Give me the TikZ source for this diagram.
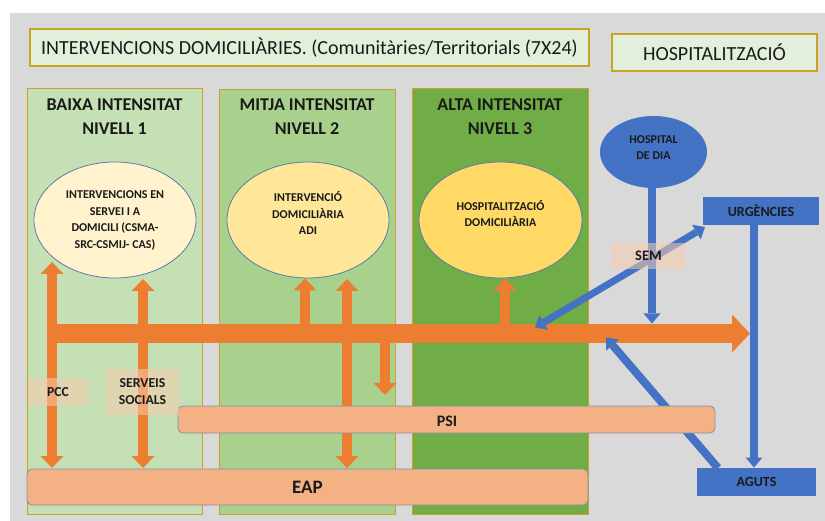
\documentclass[tikz,border=0pt]{standalone}
\usepackage{fontspec}
\setmainfont{Carlito}
\usetikzlibrary{arrows.meta,shapes.geometric}

\definecolor{bggray}{HTML}{D9D9D9}
\definecolor{titlefill}{HTML}{E2EFDA}
\definecolor{goldline}{HTML}{C9A227}
\definecolor{lvlone}{HTML}{C5E0B4}
\definecolor{lvltwo}{HTML}{A9D18E}
\definecolor{lvlthree}{HTML}{70AD47}
\definecolor{ellone}{HTML}{FFF2CC}
\definecolor{elltwo}{HTML}{FFE699}
\definecolor{ellthree}{HTML}{FFD966}
\definecolor{ellline}{HTML}{5B7BA8}
\definecolor{flowor}{HTML}{ED7D31}
\definecolor{barfill}{HTML}{F4B183}
\definecolor{barline}{HTML}{7F8FA9}
\definecolor{hospblue}{HTML}{4472C4}
\definecolor{tagfill}{HTML}{F8CBAD}
\definecolor{ink}{HTML}{1A1A1A}

\tikzset{
  titlebox/.style={draw=goldline, line width=1.2pt, fill=titlefill, inner sep=0pt,
    text=ink, font=\fontsize{20}{22}\selectfont},
  levelbox/.style={draw=goldline, line width=0.8pt, inner sep=0pt},
  levelhead/.style={align=center, text=ink, font=\bfseries\fontsize{18}{24}\selectfont},
  service/.style={ellipse, draw=ellline, line width=0.8pt, inner sep=0pt},
  servicetext/.style={align=center, inner sep=0pt, text=ink,
    font=\bfseries\fontsize{12}{16.5}\selectfont},
  bar/.style={draw=barline, line width=0.8pt, fill=barfill, rounded corners=5pt, inner sep=0pt,
    text=ink},
  bluebox/.style={fill=hospblue, inner sep=0pt, text=ink, font=\bfseries\fontsize{14}{16}\selectfont},
  tag/.style={fill=tagfill, fill opacity=0.55, text opacity=1, inner sep=0pt, align=center,
    text=ink, font=\bfseries\fontsize{13.7}{17}\selectfont},
  flow/.style={draw=flowor, line width=10pt,
    -{Triangle[width=23pt, length=12pt, line width=0pt]}},
  flowboth/.style={draw=flowor, line width=10pt,
    {Triangle[width=23pt, length=12pt, line width=0pt]}-{Triangle[width=23pt, length=12pt, line width=0pt]}},
  mainflow/.style={draw=flowor, line width=19pt,
    -{Triangle[width=38pt, length=18pt, line width=0pt]}},
  link/.style={draw=hospblue, line width=8pt,
    -{Triangle[width=17pt, length=10pt, line width=0pt]}},
  linkboth/.style={draw=hospblue, line width=7pt,
    {Triangle[width=17pt, length=10pt, line width=0pt]}-{Triangle[width=17pt, length=10pt, line width=0pt]}},
}

\begin{document}
\begin{tikzpicture}[x=1pt, y=-1pt]
  % canvas and grey panel
  \useasboundingbox (0,0) rectangle (825,521);
  \fill[bggray] (10,13) rectangle (825,521);

  % headings
  \node[titlebox, minimum width=559pt, minimum height=37pt] (title) at (309.5,47.5)
    {INTERVENCIONS DOMICILIÀRIES. (Comunitàries/Territorials (7X24)};
  \node[titlebox, minimum width=205pt, minimum height=37pt] (hosp) at (714.5,52.5) {HOSPITALITZACIÓ};

  % intensity levels
  \node[levelbox, fill=lvlone, minimum width=175pt, minimum height=426pt] (lv1) at (114.5,301) {};
  \node[levelbox, fill=lvltwo, minimum width=176pt, minimum height=425pt] (lv2) at (307,301.5) {};
  \node[levelbox, fill=lvlthree, minimum width=176pt, minimum height=426pt] (lv3) at (500,301) {};
  \node[levelhead] (h1) at (114.5,117) {BAIXA INTENSITAT\\NIVELL 1};
  \node[levelhead] (h2) at (307,117) {MITJA INTENSITAT\\NIVELL 2};
  \node[levelhead] (h3) at (500,117) {ALTA INTENSITAT\\NIVELL 3};

  % services offered at each level
  \node[service, fill=ellone, minimum width=162pt, minimum height=116pt] (s1) at (115,220) {};
  \node[service, fill=elltwo, minimum width=162pt, minimum height=116pt] (s2) at (308,220) {};
  \node[service, fill=ellthree, minimum width=163pt, minimum height=116pt] (s3) at (500.5,220) {};
  \node[servicetext] (s1t) at ([yshift=-0.5pt]s1.center)
    {INTERVENCIONS EN\\SERVEI I A\\DOMICILI (CSMA-\\SRC-CSMIJ- CAS)};
  \node[servicetext] (s2t) at ([yshift=7pt]s2.center) {INTERVENCIÓ\\DOMICILIÀRIA\\ADI};
  \node[servicetext] (s3t) at ([yshift=6.5pt]s3.center) {HOSPITALITZACIÓ\\DOMICILIÀRIA};

  % hospital resources
  \node[ellipse, fill=hospblue, minimum width=107pt, minimum height=72pt, inner sep=0pt] (dia)
    at (653.5,152) {};
  \node[servicetext, font=\bfseries\fontsize{12}{16.5}\selectfont] (diat)
    at ([yshift=4.5pt]dia.center) {HOSPITAL\\DE DIA};
  \node[bluebox, minimum width=116pt, minimum height=28pt] (urg) at (761,211) {URGÈNCIES};
  \node[bluebox, minimum width=119pt, minimum height=28pt] (agu) at (756.5,482) {AGUTS};

  % orange flow network
  \coordinate (mainL) at (47,333.5);
  \coordinate (mainR) at (750,333.5);
  \coordinate (pccTop) at (52,262);
  \coordinate (pccBot) at (52,468);
  \coordinate (ssTop) at (143,279);
  \coordinate (ssBot) at (143,468);
  \coordinate (adiA) at (305,333.5);
  \coordinate (adiB) at (347,279);
  \coordinate (adiBBot) at (347,468);
  \coordinate (dropTop) at (385,333.5);
  \coordinate (dropBot) at (385,395);
  \coordinate (hdA) at (505,333.5);

  \draw[mainflow] (mainL) -- (mainR);
  \draw[flowboth] (pccTop) -- (pccBot);
  \draw[flowboth] (ssTop) -- (ssBot);
  \draw[flow] (adiA) -- (adiA |- s2.south);
  \draw[flowboth] (adiB) -- (adiBBot);
  \draw[flow] (dropTop) -- (dropBot);
  \draw[flow] (hdA) -- (hdA |- s3.south);

  % blue hospital links
  \coordinate (semEnd) at (535,327.5);
  \coordinate (urgEnd) at (705,227);
  \coordinate (bandHit) at (606,337.5);
  \coordinate (agStart) at (718,468);
  \draw[link] (dia.south -| 652,0) -- (652,323.5);
  \draw[link] (urg.south -| 754,0) -- (754,467.5);
  \draw[linkboth] (semEnd) -- (urgEnd);
  \draw[link] (agStart) -- (bandHit);

  % shared plans
  \node[bar, minimum width=537pt, minimum height=27pt] (psi) at (446.5,419.5) {};
  \node[font=\bfseries\fontsize{16}{18}\selectfont, text=ink] (psiT) at (447,421) {PSI};
  \node[bar, minimum width=561pt, minimum height=36pt,
    font=\bfseries\fontsize{19}{22}\selectfont] (eap) at (307.5,487) {EAP};

  % translucent labels
  \node[tag, minimum width=61pt, minimum height=28pt] (pcc) at (58,392) {PCC};
  \node[tag, minimum width=73pt, minimum height=46pt] (ss) at (142.5,392) {SERVEIS\\SOCIALS};
  \node[tag, minimum width=73pt, minimum height=26pt, font=\bfseries\fontsize{14.5}{17}\selectfont]
    (sem) at (648.5,256) {SEM};
\end{tikzpicture}
\end{document}
